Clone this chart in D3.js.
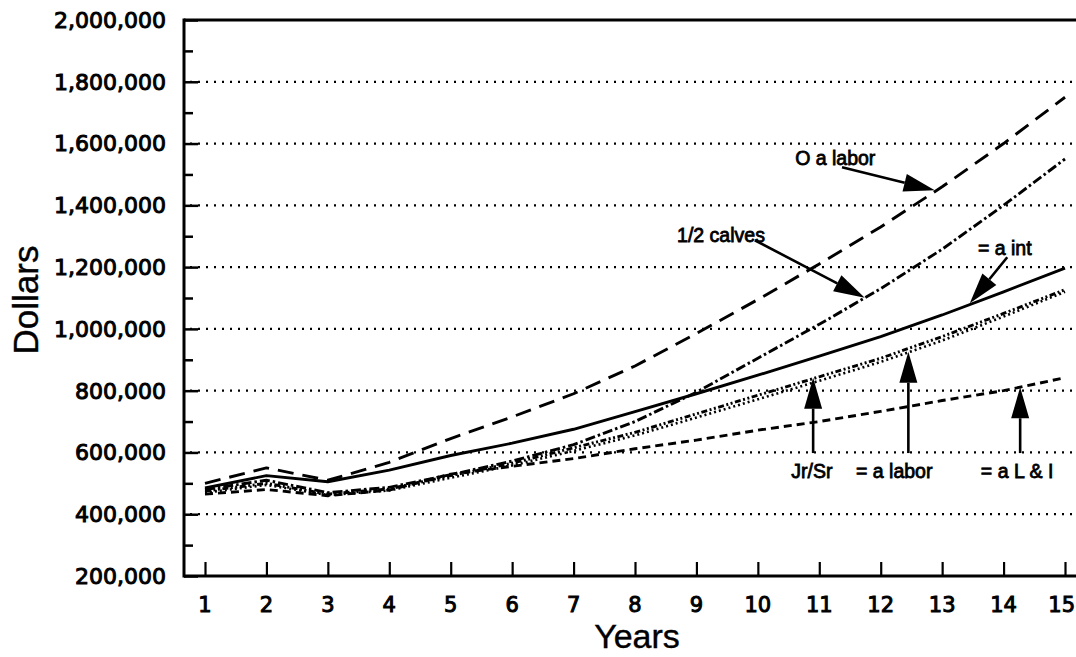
<!DOCTYPE html>
<html>
<head>
<meta charset="utf-8">
<script src="https://cdn.jsdelivr.net/npm/d3@7"></script>
<style>
  html, body { margin: 0; padding: 0; background: #fff; }
  svg { display: block; }
</style>
</head>
<body>
<svg id="chart" width="1076" height="657"></svg>
<script>
// ---- data ----
const years = [1, 2, 3, 4, 5, 6, 7, 8, 9, 10, 11, 12, 13, 14, 15];
const oLabor   = [500000, 550000, 510000, 568000, 645000, 715000, 790000, 880000, 985000, 1095000, 1210000, 1330000, 1460000, 1600000, 1750000];
const halfCalves = [480000, 510000, 470000, 487000, 528000, 572000, 625000, 700000, 795000, 905000, 1015000, 1130000, 1258000, 1400000, 1550000];
const eqInt    = [485000, 525000, 505000, 543000, 590000, 630000, 675000, 732000, 790000, 850000, 912000, 975000, 1045000, 1120000, 1197000];
const jrSr     = [475000, 500000, 465000, 482000, 525000, 565000, 615000, 665000, 725000, 785000, 845000, 905000, 975000, 1050000, 1127000];
const eqLabor  = [470000, 495000, 462000, 477000, 518000, 558000, 605000, 655000, 713000, 772000, 832000, 893000, 962000, 1040000, 1120000];
const eqLI     = [465000, 480000, 460000, 478000, 530000, 555000, 580000, 612000, 640000, 672000, 700000, 733000, 768000, 800000, 842000];
const yTicks = [200000, 400000, 600000, 800000, 1000000, 1200000, 1400000, 1600000, 1800000, 2000000];
const yMinorTicks = [300000, 500000, 700000, 900000, 1100000, 1300000, 1500000, 1700000, 1900000];
const gridValues = [400000, 600000, 800000, 1000000, 1200000, 1400000, 1600000, 1800000];

const seriesList = [
  { name: "O a labor", values: oLabor, dash: "16,9" },
  { name: "1/2 calves", values: halfCalves, dash: "10,3,2.5,3" },
  { name: "= a int", values: eqInt, dash: null },
  { name: "Jr/Sr", values: jrSr, dash: "6,2.5,2,2.5,2,2.5" },
  { name: "= a labor", values: eqLabor, dash: "2,3" },
  { name: "= a L & I", values: eqLI, dash: "8,5" }
];

// annotations in data units: text position, arrow tail, arrow tip
const annotations = [
  { text: "O a labor",  tx: 11.26, ty: 1553000, ax: 11.37, ay: 1523000, bx: 12.88, by: 1449000 },
  { text: "1/2 calves", tx: 9.40,  ty: 1303000, ax: 9.95,  ay: 1287000, bx: 11.74, by: 1101000 },
  { text: "= a int",    tx: 14.02, ty: 1261000, ax: 14.06, ay: 1232000, bx: 13.45, by: 1083000 },
  { text: "Jr/Sr",      tx: 10.88, ty: 540000,  ax: 10.90, ay: 598000,  bx: 10.90, by: 842000 },
  { text: "= a labor",  tx: 12.22, ty: 540000,  ax: 12.45, ay: 598000,  bx: 12.45, by: 926000 },
  { text: "= a L & I",  tx: 14.22, ty: 540000,  ax: 14.27, ay: 598000,  bx: 14.27, by: 811000 }
];

// ---- layout ----
const svg = d3.select("#chart");
const pLeft = 184, pRight = 1076, pTop = 20, pBottom = 576;
const x = d3.scaleLinear().domain([1, 15]).range([205, 1065]);
const y = d3.scaleLinear().domain([200000, 2000000]).range([pBottom, pTop]);
const fmt = d3.format(",");

// gridlines
svg.append("g").selectAll("line").data(gridValues).join("line")
  .attr("x1", pLeft + 6).attr("x2", pRight)
  .attr("y1", d => y(d)).attr("y2", d => y(d))
  .attr("stroke", "#000").attr("stroke-width", 2.2)
  .attr("stroke-dasharray", "2,6").attr("stroke-linecap", "butt");

// y axis (ticks inward)
const yAxis = d3.axisRight(y).tickValues(yTicks).tickSize(14).tickFormat("");
const gy = svg.append("g").attr("transform", `translate(${pLeft},0)`).call(yAxis);
gy.select(".domain").remove();
gy.selectAll(".tick line").attr("stroke", "#000").attr("stroke-width", 2.5);
const yAxisMinor = d3.axisRight(y).tickValues(yMinorTicks).tickSize(9).tickFormat("");
const gym = svg.append("g").attr("transform", `translate(${pLeft},0)`).call(yAxisMinor);
gym.select(".domain").remove();
gym.selectAll(".tick line").attr("stroke", "#000").attr("stroke-width", 2.5);

// y tick labels
svg.append("g").selectAll("text").data(yTicks).join("text")
  .attr("x", 166).attr("y", d => y(d)).attr("dy", "0.36em")
  .attr("text-anchor", "end")
  .attr("font-family", "'DejaVu Sans', sans-serif").attr("font-size", 22)
  .attr("fill", "#000").attr("stroke", "#000").attr("stroke-width", 1.0)
  .text(d => fmt(d));

// x axis ticks (upward)
const xAxis = d3.axisTop(x).tickValues(years).tickSize(14).tickFormat("");
const gx = svg.append("g").attr("transform", `translate(0,${pBottom})`).call(xAxis);
gx.select(".domain").remove();
gx.selectAll(".tick line").attr("stroke", "#000").attr("stroke-width", 2.2);

svg.append("g").selectAll("text").data(years).join("text")
  .attr("x", d => d === 15 ? 1075 : x(d)).attr("y", 604).attr("dy", "0.36em")
  .attr("text-anchor", d => d === 15 ? "end" : "middle")
  .attr("font-family", "'DejaVu Sans', sans-serif").attr("font-size", 21)
  .attr("fill", "#000").attr("stroke", "#000").attr("stroke-width", 1.0)
  .text(d => d);

// frame lines: left, top, bottom
svg.append("line").attr("x1", pLeft).attr("x2", pLeft).attr("y1", pTop - 1.5).attr("y2", pBottom + 1.5)
  .attr("stroke", "#000").attr("stroke-width", 3);
svg.append("line").attr("x1", pLeft).attr("x2", pRight).attr("y1", pTop).attr("y2", pTop)
  .attr("stroke", "#000").attr("stroke-width", 3.2);
svg.append("line").attr("x1", pLeft).attr("x2", pRight).attr("y1", pBottom).attr("y2", pBottom)
  .attr("stroke", "#000").attr("stroke-width", 3);

// series lines
const line = d3.line().x((d, i) => x(years[i])).y(d => y(d));
svg.append("g").selectAll("path").data(seriesList).join("path")
  .attr("d", s => line(s.values))
  .attr("fill", "none").attr("stroke", "#000")
  .attr("stroke-width", s => s.dash === "2,3" ? 2.6 : 2.9)
  .attr("stroke-dasharray", s => s.dash)
  .attr("stroke-linejoin", "round");

// annotations
const ag = svg.append("g");
annotations.forEach(a => {
  const x0 = x(a.ax), y0 = y(a.ay), x1 = x(a.bx), y1 = y(a.by);
  const dx = x1 - x0, dy = y1 - y0, len = Math.hypot(dx, dy);
  const ux = dx / len, uy = dy / len;
  const hl = 31, hw = 9;
  const bxp = x1 - ux * hl, byp = y1 - uy * hl;
  ag.append("line").attr("x1", x0).attr("y1", y0).attr("x2", bxp).attr("y2", byp)
    .attr("stroke", "#000").attr("stroke-width", 2.6);
  ag.append("path")
    .attr("d", `M${x1},${y1}L${bxp - uy * hw},${byp + ux * hw}L${bxp + uy * hw},${byp - ux * hw}Z`)
    .attr("fill", "#000");
  ag.append("text").attr("x", x(a.tx)).attr("y", y(a.ty))
    .attr("text-anchor", "middle").attr("dy", "0.36em")
    .attr("font-family", "'Liberation Sans', Arial, sans-serif").attr("font-size", 19.5)
    .attr("fill", "#000").attr("stroke", "#000").attr("stroke-width", 0.8)
    .text(a.text);
});

// axis titles
svg.append("text").attr("transform", `translate(38,300) rotate(-90)`)
  .attr("text-anchor", "middle")
  .attr("font-family", "'Liberation Sans', Arial, sans-serif").attr("font-size", 35)
  .attr("fill", "#000").attr("stroke", "#000").attr("stroke-width", 0.4).text("Dollars");
svg.append("text").attr("x", 637).attr("y", 648)
  .attr("text-anchor", "middle")
  .attr("font-family", "'Liberation Sans', Arial, sans-serif").attr("font-size", 34)
  .attr("fill", "#000").attr("stroke", "#000").attr("stroke-width", 0.4).text("Years");
</script>
</body>
</html>
